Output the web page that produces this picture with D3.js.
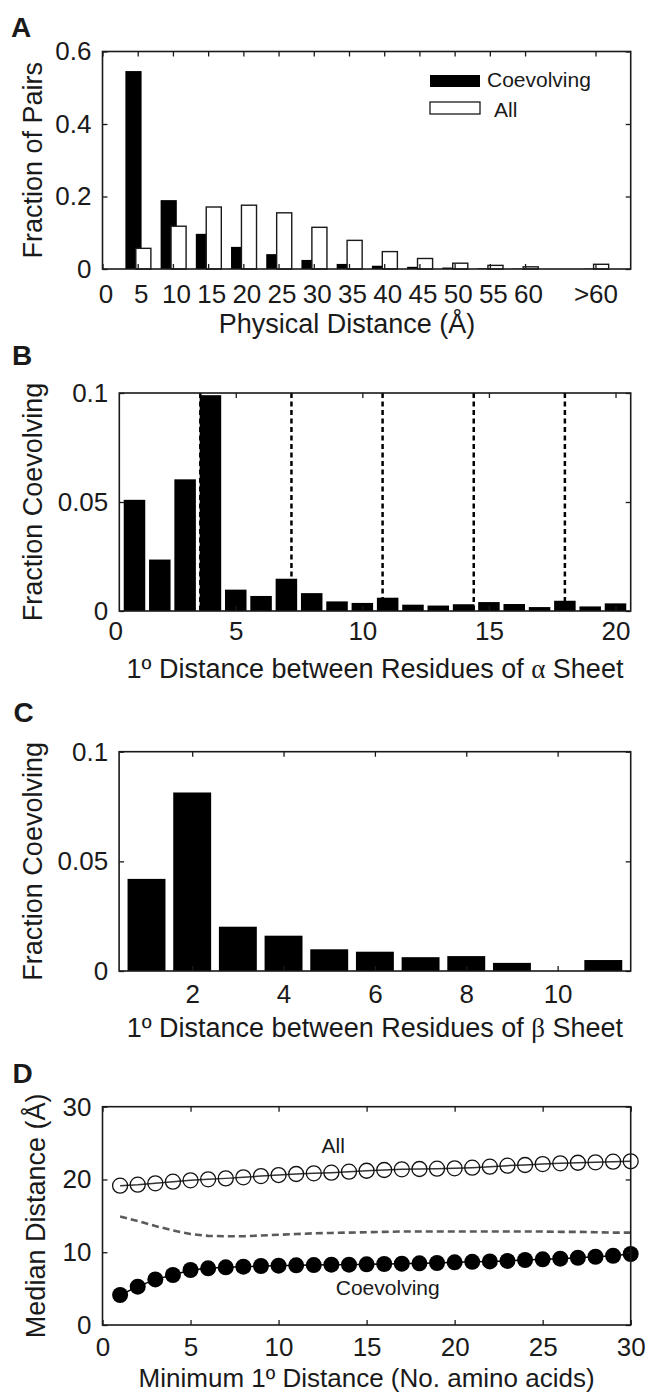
<!DOCTYPE html>
<html><head><meta charset="utf-8">
<script src="https://cdn.jsdelivr.net/npm/d3@7"></script>
<style>body{margin:0;background:#fff}svg{display:block}</style>
</head><body>
<svg id="c" width="648" height="1393"></svg>
<script>
// ---------- DATA ----------
// Panel A: physical distance bins (Å); 70 stands for ">60"
const binsA = [5, 10, 15, 20, 25, 30, 35, 40, 45, 50, 55, 60, 70];
const coevolvingA = [0.546, 0.19, 0.097, 0.061, 0.041, 0.025, 0.014, 0.009, 0.006, 0.004, 0.002, 0.001, 0.001];
const allA = [0.057, 0.118, 0.171, 0.176, 0.155, 0.115, 0.079, 0.048, 0.029, 0.016, 0.010, 0.006, 0.013];
const xTicksA = [0, 5, 10, 15, 20, 25, 30, 35, 40, 45, 50, 55, 60, 70];
const xTickLabelsA = ["0", "5", "10", "15", "20", "25", "30", "35", "40", "45", "50", "55", "60", ">60"];
const yTicksA = [0, 0.2, 0.4, 0.6];

// Panel B: primary distance within alpha helices
const distB = [1, 2, 3, 4, 5, 6, 7, 8, 9, 10, 11, 12, 13, 14, 15, 16, 17, 18, 19, 20];
const coevolvingB = [0.051, 0.0236, 0.0604, 0.099, 0.0098, 0.0069, 0.0148, 0.0082, 0.0044, 0.0037,
                     0.0061, 0.0029, 0.0025, 0.0031, 0.0041, 0.0032, 0.0018, 0.0047, 0.0021, 0.0035];
const helixTurnsB = [3.6, 7.2, 10.8, 14.4, 18];
const xTicksB = [0, 5, 10, 15, 20];
const yTicksB = [0, 0.05, 0.1];

// Panel C: primary distance within beta sheets
const distC = [1, 2, 3, 4, 5, 6, 7, 8, 9, 10, 11];
const coevolvingC = [0.042, 0.0814, 0.0202, 0.0161, 0.0099, 0.0088, 0.0063, 0.0068, 0.0037, 0, 0.005];
const xTicksC = [2, 4, 6, 8, 10];
const yTicksC = [0, 0.05, 0.1];

// Panel D: median distance vs minimum primary distance
const minDistD = d3.range(1, 31);
const allD = [19.15, 19.28, 19.47, 19.7, 19.88, 20.02, 20.15, 20.29, 20.47, 20.61,
              20.75, 20.84, 20.93, 21.07, 21.2, 21.3, 21.39, 21.44, 21.48, 21.53,
              21.62, 21.76, 21.9, 21.99, 22.12, 22.22, 22.3, 22.36, 22.44, 22.5];
const coevolvingD = [4.12, 5.27, 6.27, 6.87, 7.56, 7.79, 7.92, 8.02, 8.11, 8.15,
                     8.2, 8.24, 8.29, 8.29, 8.34, 8.38, 8.43, 8.47, 8.52, 8.61,
                     8.68, 8.74, 8.81, 8.93, 9.02, 9.11, 9.24, 9.38, 9.52, 9.76];
const dashedD = [14.9, 14.3, 13.6, 13.0, 12.5, 12.25, 12.2, 12.2, 12.3, 12.4,
                 12.5, 12.6, 12.65, 12.7, 12.75, 12.8, 12.85, 12.85, 12.85, 12.85,
                 12.85, 12.85, 12.85, 12.85, 12.85, 12.8, 12.8, 12.75, 12.7, 12.7];
const xTicksD = [0, 5, 10, 15, 20, 25, 30];
const yTicksD = [0, 10, 20, 30];

// ---------- DRAWING ----------
const FONT = "'Liberation Sans', Arial, Helvetica, sans-serif";
const INK = "#1a1a1a";
const TICK_FS = 26;
const svg = d3.select("#c");
svg.append("rect").attr("width", 648).attr("height", 1393).attr("fill", "#fff");

function axes(box, x, y, o) {
  const g = svg.append("g");
  const style = sel => sel.attr("font-size", TICK_FS).attr("font-family", FONT).attr("color", INK)
      .call(s => s.select(".domain").remove())
      .call(s => s.selectAll(".tick line").attr("stroke-width", 1.3));
  const gb = g.append("g").attr("transform", `translate(0,${box.b})`)
    .call(d3.axisBottom(x).tickValues(o.xTicks).tickSize(-5).tickFormat(o.xFormat)).call(style);
  gb.selectAll(".tick text").attr("y", o.xLabBase).attr("dy", 0);
  gb.selectAll(".tick").filter(d => x(d) < box.l - 0.5).each(function (d) {
    d3.select(this).select("line").remove();
    d3.select(this).select("text").attr("x", box.l - 4 - x(d));
  });
  if (o.xDx) gb.selectAll(".tick text").attr("dx", (d, i) => o.xDx(d, i));
  g.append("g").attr("transform", `translate(0,${box.t})`)
    .call(d3.axisTop(x).tickValues(o.xTicks.filter(d => x(d) >= box.l - 0.5 && x(d) <= box.r + 0.5)).tickSize(-5).tickFormat("")).call(style);
  g.append("g").attr("transform", `translate(${box.l},0)`)
    .call(d3.axisLeft(y).tickValues(o.yTicks).tickSize(-5).tickPadding(11).tickFormat(o.yFormat)).call(style);
  g.append("g").attr("transform", `translate(${box.r},0)`)
    .call(d3.axisRight(y).tickValues(o.yTicks).tickSize(-5).tickFormat("")).call(style);
  g.append("rect").attr("x", box.l).attr("y", box.t).attr("width", box.r - box.l).attr("height", box.b - box.t)
    .attr("fill", "none").attr("stroke", INK).attr("stroke-width", 1.6);
  return g;
}

function text(x, y, str, size, opts = {}) {
  const t = svg.append("text").attr("x", x).attr("y", y).attr("font-family", FONT)
    .attr("font-size", size).attr("fill", INK).attr("text-anchor", opts.anchor || "start")
    .attr("font-weight", opts.bold ? "bold" : "normal");
  if (str) t.text(str);
  if (opts.rotate) t.attr("transform", `rotate(-90,${x},${y})`);
  return t;
}
function addParts(t, parts) {
  parts.forEach(p => {
    const s = t.append("tspan").text(p.t);
    if (p.serif) s.attr("font-family", "'Liberation Serif', 'Times New Roman', serif");
  });
}

// ----- Panel A -----
const boxA = {l: 102.5, r: 630.7, t: 51.5, b: 269};
const xA = d3.scaleLinear().domain([0, 75]).range([boxA.l, boxA.r]);
const yA = d3.scaleLinear().domain([0, 0.6]).range([boxA.b, boxA.t]);
const gA = svg.append("g");
gA.selectAll("rect.coev").data(binsA).join("rect")
  .attr("x", (d) => xA(d - 0.6 - 1.15)).attr("width", xA(2.3) - xA(0))
  .attr("y", (d, i) => yA(coevolvingA[i])).attr("height", (d, i) => yA(0) - yA(coevolvingA[i]))
  .attr("fill", "#000");
gA.selectAll("rect.all").data(binsA).join("rect")
  .attr("x", (d) => xA(d + 0.8 - 1.07)).attr("width", xA(2.14) - xA(0))
  .attr("y", (d, i) => yA(allA[i])).attr("height", (d, i) => yA(0) - yA(allA[i]))
  .attr("fill", "#fff").attr("stroke", INK).attr("stroke-width", 1.4);
axes(boxA, xA, yA, {
  xTicks: xTicksA, xFormat: (d, i) => xTickLabelsA[i], xLabBase: 34,
  xDx: (d, i) => xTickLabelsA[i].startsWith(">") ? 0 : 3,
  yTicks: yTicksA, yFormat: d => d === 0 ? "0" : String(d)
});
// legend
svg.append("rect").attr("x", 430).attr("y", 75).attr("width", 50).attr("height", 12).attr("fill", "#000");
svg.append("rect").attr("x", 430).attr("y", 102).attr("width", 50).attr("height", 12)
  .attr("fill", "#fff").attr("stroke", INK).attr("stroke-width", 1.3);
text(487, 87, "Coevolving", 21);
text(494, 116.5, "All", 21);
text(11, 37, "A", 28, {bold: true});
text(42, (boxA.t + boxA.b) / 2, "Fraction of Pairs", 27, {anchor: "middle", rotate: true});
text(347, 333, "Physical Distance (Å)", 27, {anchor: "middle"});

// ----- Panel B -----
const boxB = {l: 119.3, r: 630.7, t: 393, b: 611};
const xB = d3.scaleLinear().domain([0.4, 20.6]).range([boxB.l, boxB.r]);
const yB = d3.scaleLinear().domain([0, 0.1]).range([boxB.b, boxB.t]);
const gB = svg.append("g");
gB.selectAll("rect").data(distB).join("rect")
  .attr("x", d => xB(d - 0.425)).attr("width", xB(0.85) - xB(0))
  .attr("y", (d, i) => yB(coevolvingB[i])).attr("height", (d, i) => yB(0) - yB(coevolvingB[i]))
  .attr("fill", "#000");
gB.selectAll("line").data(helixTurnsB).join("line")
  .attr("x1", d => xB(d)).attr("x2", d => xB(d))
  .attr("y1", yB(0.1)).attr("y2", yB(0))
  .attr("stroke", "#000").attr("stroke-width", 2.5).attr("stroke-dasharray", "5,3.5");
axes(boxB, xB, yB, {
  xTicks: xTicksB, xFormat: d3.format("d"), xLabBase: 29,
  yTicks: yTicksB, yFormat: d => d === 0 ? "0" : String(d)
});
text(12, 365, "B", 28, {bold: true});
text(42, (boxB.t + boxB.b) / 2, "Fraction Coevolving", 27, {anchor: "middle", rotate: true});
addParts(text((boxB.l + boxB.r) / 2, 678, "", 27, {anchor: "middle"}),
  [{t: "1º Distance between Residues of "}, {t: "α", serif: true}, {t: " Sheet"}]);

// ----- Panel C -----
const boxC = {l: 119.1, r: 630.7, t: 751.7, b: 971};
const xC = d3.scaleLinear().domain([0.4, 11.6]).range([boxC.l, boxC.r]);
const yC = d3.scaleLinear().domain([0, 0.1]).range([boxC.b, boxC.t]);
svg.append("g").selectAll("rect").data(distC).join("rect")
  .attr("x", d => xC(d - 0.415)).attr("width", xC(0.83) - xC(0))
  .attr("y", (d, i) => yC(coevolvingC[i])).attr("height", (d, i) => yC(0) - yC(coevolvingC[i]))
  .attr("fill", "#000");
axes(boxC, xC, yC, {
  xTicks: xTicksC, xFormat: d3.format("d"), xLabBase: 32,
  yTicks: yTicksC, yFormat: d => d === 0 ? "0" : String(d)
});
text(13.5, 722, "C", 28, {bold: true});
text(42, (boxC.t + boxC.b) / 2, "Fraction Coevolving", 27, {anchor: "middle", rotate: true});
addParts(text((boxC.l + boxC.r) / 2, 1037, "", 27, {anchor: "middle"}),
  [{t: "1º Distance between Residues of "}, {t: "β", serif: true}, {t: " Sheet"}]);

// ----- Panel D -----
const boxD = {l: 102.5, r: 630.7, t: 1106.7, b: 1325};
const xD = d3.scaleLinear().domain([0, 30]).range([boxD.l, boxD.r]);
const yD = d3.scaleLinear().domain([0, 30]).range([boxD.b, boxD.t]);
const gD = svg.append("g");
const lineD = d3.line().x((d, i) => xD(minDistD[i])).y(d => yD(d));
gD.append("path").datum(dashedD).attr("d", lineD).attr("fill", "none")
  .attr("stroke", "#5a5a5a").attr("stroke-width", 2.6).attr("stroke-dasharray", "7,4");
gD.append("path").datum(allD).attr("d", lineD).attr("fill", "none")
  .attr("stroke", "#333").attr("stroke-width", 1.5);
gD.append("path").datum(coevolvingD).attr("d", lineD).attr("fill", "none")
  .attr("stroke", "#000").attr("stroke-width", 1.5);
gD.selectAll("circle.all").data(allD).join("circle")
  .attr("cx", (d, i) => xD(minDistD[i])).attr("cy", d => yD(d)).attr("r", 7.5)
  .attr("fill", "none").attr("stroke", "#111").attr("stroke-width", 1.3);
gD.selectAll("circle.coev").data(coevolvingD).join("circle")
  .attr("cx", (d, i) => xD(minDistD[i])).attr("cy", d => yD(d)).attr("r", 8)
  .attr("fill", "#000");
axes(boxD, xD, yD, {
  xTicks: xTicksD, xFormat: d3.format("d"), xLabBase: 31,
  yTicks: yTicksD, yFormat: d3.format("d")
});
text(xD(13.1), yD(23.7), "All", 21, {anchor: "middle"});
text(xD(16.2), yD(4.1), "Coevolving", 21, {anchor: "middle"});
text(12.5, 1083, "D", 28, {bold: true});
text(45, (boxD.t + boxD.b) / 2, "Median Distance (Å)", 27, {anchor: "middle", rotate: true});
text((boxD.l + boxD.r) / 2, 1387, "Minimum 1º Distance (No. amino acids)", 26, {anchor: "middle"});
</script>
</body></html>
